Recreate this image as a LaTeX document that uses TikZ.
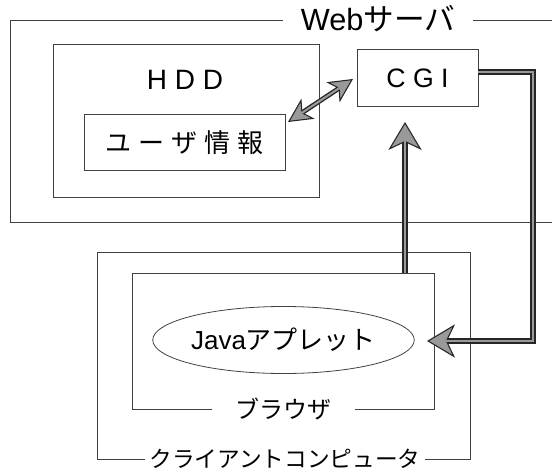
\documentclass[tikz,border=0pt]{standalone}
\usepackage{fontspec}
\setmainfont{Liberation Sans}
\newfontfamily\jp{Noto Sans CJK JP}
\usetikzlibrary{shapes.geometric,arrows.meta}
\newcommand\gap{\hspace{0.27em}}

\begin{document}
\begin{tikzpicture}
[ x=0.75pt, y=-0.75pt,
frame/.style={rectangle, draw=black!75, line width=0.75pt, inner sep=0pt},
tag/.style={fill=white, inner sep=0pt, minimum height=20pt},
fat/.style={line width=4.5pt, draw=black!85, line join=miter},
fatin/.style={line width=2.2pt, draw=black!40, line join=miter},
head/.style={-{Stealth[length=21pt, width=25pt, inset=6pt, fill=black!40, line width'=0.8pt]}},
twohead/.style={{Stealth[length=18pt, width=18pt, inset=5pt, fill=black!40, line width'=0.8pt]}-{Stealth[length=18pt, width=18pt, inset=5pt, fill=black!40, line width'=0.8pt]}},
]
\path[use as bounding box, clip] (0,0) rectangle (552,470);

% web server
\draw[draw=black!75, line width=0.75pt] (560,21) -| (10,222) -- (560,222);
\node (web) [tag, minimum width=142.5pt] at (378,19) {\fontsize{23}{23}\selectfont Web{\jp サーバ}};
\node (hdd) [frame, minimum width=199.5pt, minimum height=114pt] at (186,121) {};
\node (hddlabel) at (185,80) {\fontsize{21}{21}\selectfont H D D};
\node (user) [frame, minimum width=150.75pt, minimum height=42pt] at (184.5,143)
  {\fontsize{19.5}{20}\selectfont\jp ユ\gap ー\gap ザ\gap 情\gap 報};
\node (cgi) [frame, minimum width=90.75pt, minimum height=42.75pt] at (417.5,78.5)
  {\fontsize{20}{20}\selectfont C G I};

% client
\node (client) [frame, minimum width=279.75pt, minimum height=155.25pt] at (283.5,355.5) {};
\node (browser) [frame, minimum width=226.5pt, minimum height=102pt] at (283,341) {};
\node (java) [ellipse, draw=black!75, line width=0.6pt, inner sep=0pt,
  minimum width=183pt, minimum height=50.25pt] at (283.5,340)
  {\fontsize{19.5}{20}\selectfont Java{\jp アプレット}};
\node (browserlabel) [tag, minimum width=107pt] at (283.5,409) {\fontsize{18}{18}\selectfont\jp ブラウザ};
\node (clientlabel) [tag, minimum width=210pt] at (285,459) {\fontsize{17}{17}\selectfont\jp クライアントコンピュータ};

\coordinate (cgiout) at (478,72);
\coordinate (turn) at (533,72);
\coordinate (javain) at (427,341);
\coordinate (upfrom) at (405,273);
\coordinate (upto) at (405,122);
\coordinate (dbuser) at (288,122);
\coordinate (dbcgi) at (353,79);

\draw[fat, head] (cgiout) -- (turn) |- (javain);
\draw[fatin, shorten >=14pt] (cgiout) -- (turn) |- (javain);
\draw[fat, head] (upfrom) -- (upto);
\draw[fatin, shorten >=14pt] (upfrom) -- (upto);
\draw[fat, line width=3.6pt, twohead] (dbuser) -- (dbcgi);
\draw[fatin, line width=1.6pt, shorten >=12pt, shorten <=12pt] (dbuser) -- (dbcgi);
\end{tikzpicture}
\end{document}
